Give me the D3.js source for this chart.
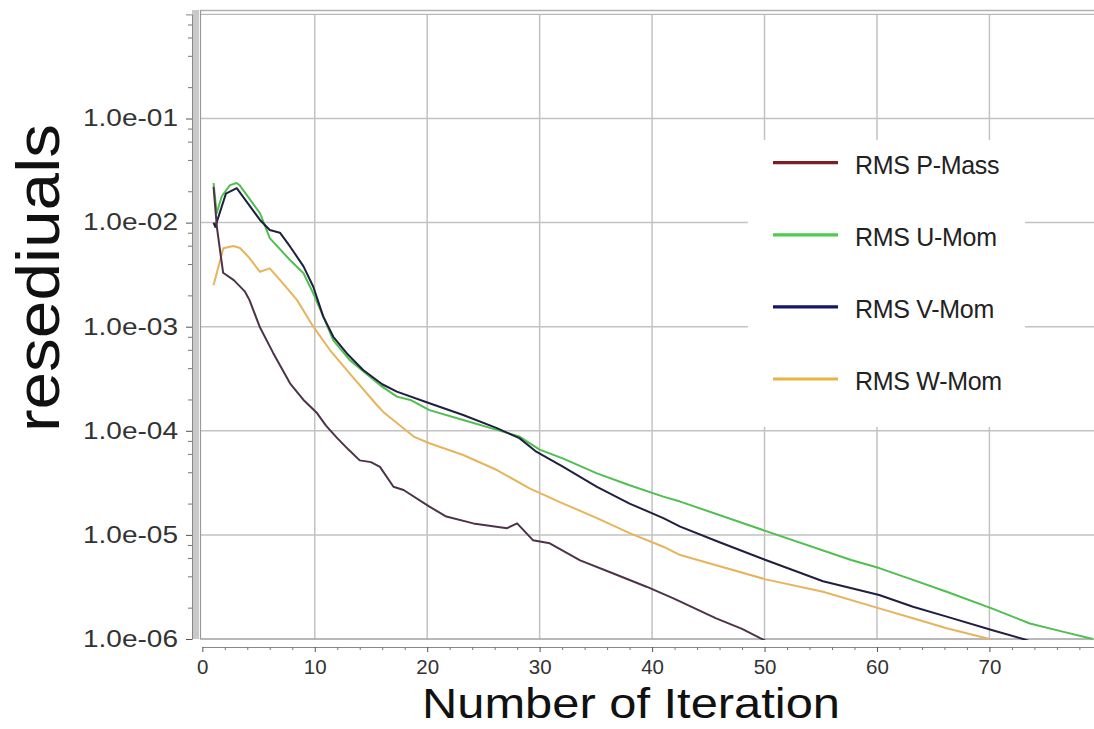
<!DOCTYPE html>
<html><head><meta charset="utf-8">
<script src="https://cdn.jsdelivr.net/npm/d3@7/dist/d3.min.js"></script>
<style>html,body{margin:0;padding:0;background:#fff;} svg{display:block;}</style>
</head><body>
<svg id="chart" width="1094" height="729"></svg>
<script>
// ---------------- DATA ----------------
const seriesNames = ["RMS P-Mass", "RMS U-Mom", "RMS V-Mom", "RMS W-Mom"];

const pMassIter = [1.0, 1.3, 1.85, 2.8, 3.8, 4.2, 5.1, 6.3, 7.8, 9.0, 10.2, 11, 12, 13, 14, 15, 15.8, 17.0, 17.9, 20.2, 21.7, 24.1, 27.1, 28.0, 29.4, 30.9, 33.6, 36.5, 39.5, 41.9, 45.7, 48, 50.1, 51.5];
const pMassRes  = [2.2e-2, 9.0e-3, 3.3e-3, 2.8e-3, 2.17e-3, 1.8e-3, 1.0e-3, 5.6e-4, 2.86e-4, 1.98e-4, 1.48e-4, 1.12e-4, 8.5e-5, 6.6e-5, 5.2e-5, 5.0e-5, 4.5e-5, 2.9e-5, 2.7e-5, 1.87e-5, 1.5e-5, 1.29e-5, 1.16e-5, 1.29e-5, 8.9e-6, 8.3e-6, 5.7e-6, 4.28e-6, 3.18e-6, 2.46e-6, 1.58e-6, 1.25e-6, 9.6e-7, 8.0e-7];

const uMomIter = [1.0, 1.28, 1.72, 2.46, 3.06, 3.3, 5.13, 6.0, 7.8, 9.0, 9.87, 10.76, 11.65, 13.1, 14.9, 15.8, 17.3, 18.5, 20.2, 23.2, 26.2, 28.2, 30, 32.1, 35.1, 38.0, 41.0, 42.5, 50, 57.7, 60.2, 63.2, 66.2, 70.2, 73.6, 76.6, 79.2];
const uMomRes  = [2.4e-2, 1.23e-2, 1.78e-2, 2.29e-2, 2.4e-2, 2.3e-2, 1.23e-2, 7.1e-3, 4.37e-3, 3.26e-3, 2.09e-3, 1.25e-3, 7.4e-4, 4.8e-4, 3.3e-4, 2.75e-4, 2.13e-4, 1.98e-4, 1.58e-4, 1.27e-4, 1.02e-4, 8.8e-5, 6.6e-5, 5.4e-5, 3.9e-5, 3.0e-5, 2.33e-5, 2.09e-5, 1.1e-5, 5.74e-6, 4.8e-6, 3.7e-6, 2.84e-6, 1.97e-6, 1.41e-6, 1.17e-6, 1.0e-6];

const vMomIter = [1.0, 1.15, 2.1, 3.06, 5.13, 6.0, 6.9, 7.8, 9.0, 9.87, 10.76, 11.65, 12.84, 14.3, 16.0, 17.3, 20.2, 23.2, 26.2, 28.2, 29.7, 32.1, 35.1, 38.0, 41.0, 42.5, 46, 50.1, 55.2, 60.2, 63.2, 66.2, 70.2, 73.0, 74.8];
const vMomRes  = [1.0e-2, 9.1e-3, 1.9e-2, 2.14e-2, 1.06e-2, 8.5e-3, 8.0e-3, 5.9e-3, 3.8e-3, 2.42e-3, 1.25e-3, 8.0e-4, 5.56e-4, 3.84e-4, 2.8e-4, 2.38e-4, 1.84e-4, 1.42e-4, 1.06e-4, 8.5e-5, 6.3e-5, 4.5e-5, 2.9e-5, 2.0e-5, 1.45e-5, 1.2e-5, 8.5e-6, 5.74e-6, 3.59e-6, 2.65e-6, 2.04e-6, 1.64e-6, 1.22e-6, 1.0e-6, 8.6e-7];

const wMomIter = [1.0, 1.87, 2.76, 3.35, 4.09, 5.13, 6.0, 6.9, 8.4, 9.87, 11.35, 13.1, 15.5, 16.2, 18.8, 20.2, 23.2, 26.2, 29.1, 32.1, 35.1, 38.0, 41.0, 42.5, 50.1, 55.2, 60.2, 63.2, 66.2, 70.0];
const wMomRes  = [2.5e-3, 5.66e-3, 5.96e-3, 5.7e-3, 4.7e-3, 3.37e-3, 3.63e-3, 2.82e-3, 1.82e-3, 1.0e-3, 5.97e-4, 3.56e-4, 1.78e-4, 1.48e-4, 8.8e-5, 7.6e-5, 5.86e-5, 4.2e-5, 2.8e-5, 2.0e-5, 1.45e-5, 1.04e-5, 7.7e-6, 6.4e-6, 3.74e-6, 2.84e-6, 1.97e-6, 1.58e-6, 1.27e-6, 1.0e-6];

const yTickValues = [1e-6, 1e-5, 1e-4, 1e-3, 1e-2, 1e-1];
const yTickLabels = ["1.0e-06", "1.0e-05", "1.0e-04", "1.0e-03", "1.0e-02", "1.0e-01"];
const xTickValues = [0, 10, 20, 30, 40, 50, 60, 70];
const xTickLabels = ["0", "10", "20", "30", "40", "50", "60", "70"];
const xTitle = "Number of Iteration";
const yTitle = "resediuals";

// ---------------- STYLE ----------------
const lineColors   = {"RMS P-Mass": "#4d3349", "RMS U-Mom": "#4fbf4f", "RMS V-Mom": "#1f1f3f", "RMS W-Mom": "#e7b45c"};
const legendColors = {"RMS P-Mass": "#7d1f22", "RMS U-Mom": "#4ccc4c", "RMS V-Mom": "#15156a", "RMS W-Mom": "#e6b445"};
const FONT = "'Liberation Sans', Arial, sans-serif";

// ---------------- CHART ----------------
const svg = d3.select("#chart");
const W = 1094, H = 729;
const plotL = 200, plotR = 1094, plotT = 14.4, plotB = 639;

const x = d3.scaleLinear().domain([0, 79.3]).range([202.3, 1094]);
const y = d3.scaleLog().domain([1e-6, 1]).range([639, 14.4]);

svg.append("rect").attr("width", W).attr("height", H).attr("fill", "#fff");

// grid
const grid = svg.append("g");
grid.selectAll("line.v").data(xTickValues.filter(d => d > 0)).join("line")
  .attr("x1", d => x(d)).attr("x2", d => x(d)).attr("y1", plotT).attr("y2", plotB)
  .attr("stroke", "#c2c2c2").attr("stroke-width", 1.5);
grid.selectAll("line.h").data(yTickValues.filter(d => d > 1e-6)).join("line")
  .attr("x1", plotL).attr("x2", plotR).attr("y1", d => y(d)).attr("y2", d => y(d))
  .attr("stroke", "#c2c2c2").attr("stroke-width", 1.5);

// frame
svg.append("line").attr("x1", plotL).attr("x2", plotR).attr("y1", 10.5).attr("y2", 10.5).attr("stroke", "#b0b0b0").attr("stroke-width", 1.5);
svg.append("line").attr("x1", plotL).attr("x2", plotR).attr("y1", plotT).attr("y2", plotT).attr("stroke", "#b8b8b8").attr("stroke-width", 1.2);
svg.append("line").attr("x1", plotL + 0.5).attr("x2", plotL + 0.5).attr("y1", 10).attr("y2", plotB).attr("stroke", "#999").attr("stroke-width", 1.2);
svg.append("line").attr("x1", plotL).attr("x2", plotR).attr("y1", plotB).attr("y2", plotB).attr("stroke", "#a0a0a0").attr("stroke-width", 1.5);

// y axis band
svg.append("rect").attr("x", 192).attr("y", 10).attr("width", 7).attr("height", plotB - 10).attr("fill", "#c9c9c9");

// y axis
const yAxis = svg.append("g").attr("transform", "translate(192,0)")
  .call(d3.axisLeft(y).tickValues(yTickValues).tickFormat((d, i) => yTickLabels[i]).tickSize(6).tickPadding(8));
yAxis.select(".domain").attr("stroke", "#888");
yAxis.selectAll(".tick line").attr("stroke", "#555");
yAxis.selectAll(".tick text").attr("font-family", FONT).attr("font-size", 23).attr("fill", "#333")
  .attr("textLength", 95).attr("lengthAdjust", "spacingAndGlyphs");
const yMinor = [];
yTickValues.slice(0, -1).forEach(d => [2, 4, 6, 8].forEach(m => yMinor.push(d * m)));
[2, 4, 6, 8].forEach(m => yMinor.push(0.1 * m));
svg.append("g").attr("transform", "translate(192,0)")
  .call(d3.axisLeft(y).tickValues(yMinor).tickFormat("").tickSize(4))
  .call(g => g.select(".domain").remove())
  .selectAll(".tick line").attr("stroke", "#777");

// x axis
const xAxis = svg.append("g").attr("transform", "translate(0,647)")
  .call(d3.axisBottom(x).tickValues(xTickValues).tickFormat((d, i) => xTickLabels[i]).tickSize(5).tickPadding(7.4).tickSizeOuter(0));
xAxis.select(".domain").attr("stroke", "#888").attr("stroke-width", 1.2);
xAxis.selectAll(".tick line").attr("stroke", "#555");
xAxis.selectAll(".tick text").attr("font-family", FONT).attr("font-size", 20.5).attr("fill", "#333");
const xMinor = d3.range(2, 80, 2).filter(d => d % 10 !== 0);
svg.append("g").attr("transform", "translate(0,647)")
  .call(d3.axisBottom(x).tickValues(xMinor).tickFormat("").tickSize(3))
  .call(g => g.select(".domain").remove())
  .selectAll(".tick line").attr("stroke", "#777");

// lines
svg.append("clipPath").attr("id", "clip").append("rect")
  .attr("x", plotL + 1).attr("y", plotT).attr("width", plotR - plotL).attr("height", plotB - plotT + 1);
const series = [
  {name: "RMS W-Mom", it: wMomIter, v: wMomRes},
  {name: "RMS U-Mom", it: uMomIter, v: uMomRes},
  {name: "RMS V-Mom", it: vMomIter, v: vMomRes},
  {name: "RMS P-Mass", it: pMassIter, v: pMassRes}
];
const line = d3.line().x(d => x(d[0])).y(d => y(d[1]));
svg.append("g").attr("clip-path", "url(#clip)").selectAll("path").data(series).join("path")
  .attr("d", s => line(s.it.map((t, i) => [t, s.v[i]])))
  .attr("fill", "none").attr("stroke", s => lineColors[s.name]).attr("stroke-width", 2)
  .attr("stroke-linejoin", "round");

// legend
svg.append("rect").attr("x", 748).attr("y", 140).attr("width", 277).attr("height", 287).attr("fill", "#fff");
const ly = d3.scalePoint().domain(seriesNames).range([162.7, 379]);
const lg = svg.append("g").selectAll("g").data(seriesNames).join("g");
lg.append("line").attr("x1", 773).attr("x2", 838).attr("y1", d => ly(d)).attr("y2", d => ly(d))
  .attr("stroke", d => legendColors[d]).attr("stroke-width", 3.2);
lg.append("text").attr("x", 855).attr("y", d => ly(d) + 11).text(d => d)
  .attr("font-family", FONT).attr("font-size", 25).attr("fill", "#222").attr("letter-spacing", -0.3);

// titles
svg.append("text").attr("x", 631).attr("y", 718).attr("text-anchor", "middle")
  .attr("font-family", FONT).attr("font-size", 42).attr("fill", "#111")
  .attr("textLength", 418).attr("lengthAdjust", "spacingAndGlyphs").text(xTitle);
svg.append("text").attr("transform", "translate(59,278) rotate(-90)").attr("text-anchor", "middle")
  .attr("font-family", FONT).attr("font-size", 62).attr("fill", "#111")
  .attr("textLength", 308).attr("lengthAdjust", "spacingAndGlyphs").text(yTitle);
</script>
</body></html>
